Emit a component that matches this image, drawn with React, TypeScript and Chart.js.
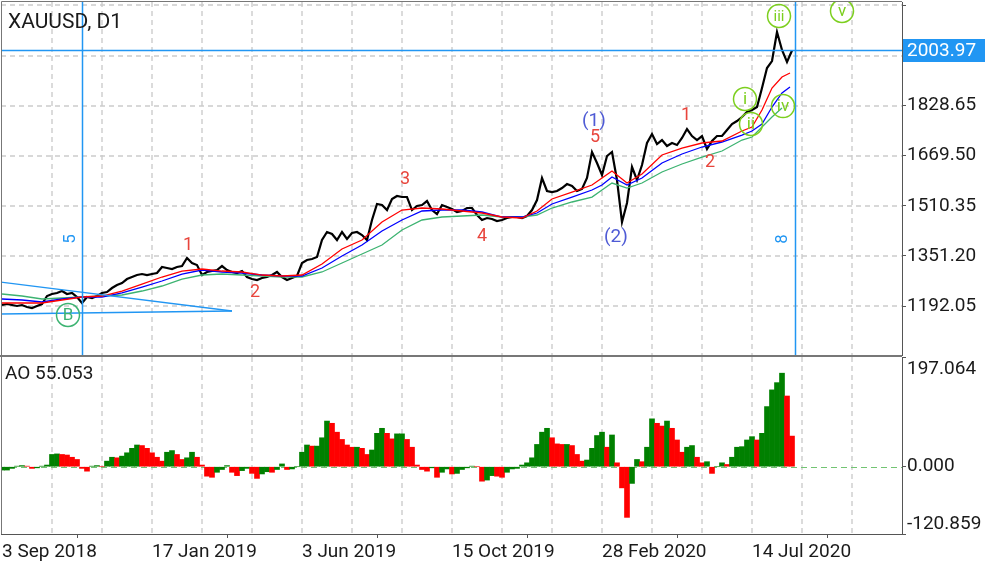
import React, { useEffect, useRef } from 'react';
import { Chart, registerables } from 'chart.js';

Chart.register(...registerables);

const FONT = 'Roboto, "Noto Sans", sans-serif';

// x unit = one sample step; 0 = 3 Sep 2018
const closePrices = [
  1195.2, 1198.4, 1195.2, 1192.1, 1195.2, 1188.9, 1185.7, 1192.1, 1198.4, 1223.8,
  1230.2, 1233.4, 1239.7, 1230.2, 1233.4, 1220.6, 1201.6, 1220.6, 1217.5, 1223.8,
  1233.4, 1236.5, 1249.2, 1258.8, 1265.1, 1277.8, 1284.2, 1290.5, 1293.7, 1290.5,
  1293.7, 1296.9, 1315.9, 1312.8, 1309.6, 1315.9, 1319.1, 1344.5, 1328.7, 1322.3,
  1290.5, 1300.1, 1303.2, 1306.4, 1319.1, 1306.4, 1300.1, 1296.9, 1303.2, 1284.2,
  1277.8, 1274.7, 1281.0, 1284.2, 1290.5, 1300.1, 1284.2, 1274.7, 1281.0, 1287.4,
  1328.7, 1338.2, 1341.4, 1347.7, 1401.7, 1427.1, 1420.8, 1401.7, 1427.1, 1404.9,
  1424.0, 1427.1, 1417.6, 1401.7, 1465.3, 1516.1, 1512.9, 1497.0, 1532.0, 1541.5,
  1538.3, 1538.3, 1497.0, 1509.8, 1512.9, 1525.6, 1497.0, 1484.3, 1512.9, 1506.6,
  1500.2, 1490.7, 1493.9, 1503.4, 1503.4, 1481.2, 1465.3, 1471.6, 1468.4, 1462.1,
  1465.3, 1471.6, 1474.8, 1474.8, 1471.6, 1478.0, 1497.0, 1528.8, 1598.7, 1557.4,
  1554.2, 1557.4, 1566.9, 1579.6, 1573.3, 1557.4, 1563.8, 1598.7, 1681.3, 1646.4,
  1608.2, 1668.6, 1681.3, 1592.4, 1458.9, 1519.3, 1633.7, 1592.4, 1640.0, 1709.9,
  1738.5, 1706.7, 1719.4, 1700.4, 1709.9, 1703.5, 1725.8, 1754.4, 1732.1, 1719.4,
  1732.1, 1690.8, 1716.3, 1732.1, 1732.1, 1751.2, 1770.3, 1779.8, 1792.5, 1808.4,
  1814.7, 1824.3, 1884.6, 1948.2, 1970.4, 2062.5, 2005.4, 1967.2, 2003.97,
];

const maX = [
  0, 4, 8, 12, 16, 20, 24, 28, 32, 36, 40, 44, 48, 52, 56, 60, 64, 68, 72, 76,
  80, 84, 88, 92, 96, 100, 104, 107, 110, 114, 118, 120, 122, 125, 128, 132, 136, 140, 144, 148,
  150, 152, 154, 156, 157.6,
];
const maRed = [
  1201.6, 1201.6, 1201.6, 1211.1, 1220.6, 1223.8, 1239.7, 1261.9, 1284.2, 1303.2,
  1309.6, 1303.2, 1300.1, 1290.5, 1287.4, 1290.5, 1325.5, 1373.1, 1401.7, 1458.9,
  1497.0, 1503.4, 1500.2, 1493.9, 1487.5, 1474.8, 1471.6, 1493.9, 1532.0, 1554.2,
  1576.5, 1598.7, 1621.0, 1582.8, 1611.4, 1671.8, 1694.0, 1709.9, 1716.3, 1748.0,
  1760.7, 1814.7, 1884.6, 1919.5, 1932.3,
];
const maBlue = [
  1214.3, 1211.1, 1204.8, 1214.3, 1220.6, 1220.6, 1233.4, 1252.4, 1271.5, 1293.7,
  1306.4, 1300.1, 1296.9, 1290.5, 1287.4, 1287.4, 1312.8, 1350.9, 1385.8, 1430.3,
  1465.3, 1493.9, 1497.0, 1497.0, 1490.7, 1474.8, 1474.8, 1487.5, 1516.1, 1538.3,
  1560.6, 1576.5, 1601.9, 1576.5, 1598.7, 1646.4, 1675.0, 1697.2, 1713.1, 1735.3,
  1748.0, 1770.3, 1824.3, 1868.8, 1887.8,
];
const maGreen = [
  1230.2, 1223.8, 1214.3, 1217.5, 1220.6, 1223.8, 1227.0, 1239.7, 1255.6, 1277.8,
  1290.5, 1293.7, 1290.5, 1287.4, 1284.2, 1284.2, 1300.1, 1328.7, 1357.3, 1385.8,
  1433.5, 1465.3, 1474.8, 1478.0, 1481.2, 1474.8, 1474.8, 1481.2, 1503.4, 1522.5,
  1538.3, 1560.6, 1582.8, 1566.9, 1582.8, 1617.8, 1643.2, 1665.4, 1684.5, 1719.4,
  1729.0, 1760.7, 1792.5, 1821.1,
];

const aoValues = [
  -6, -6, -3, 1, 2, 1, -3, -2, 1, 3,
  22, 23, 22, 21, 17, 13, -3, -8, 1, 2,
  0, 10, 17, 16, 19, 25, 33, 39, 38, 33,
  25, 17, 10, 26, 29, 22, 13, 16, 26, 17,
  3, -17, -19, -10, -5, 2, -10, -16, -7, -3,
  -12, -21, -13, -9, -10, -5, 5, -5, -4, 0,
  26, 39, 37, 37, 52, 82, 78, 62, 49, 39,
  35, 35, 33, 22, 30, 60, 69, 60, 50, 59,
  59, 49, 35, 3, -5, -8, -2, -19, -10, -4,
  -13, -12, -5, -2, 1, 0, -26, -24, -16, -17,
  -19, -10, -4, -3, 3, 7, 16, 40, 62, 69,
  52, 41, 40, 40, 38, 22, 10, 12, 33, 56,
  62, 35, 57, 7, -38, -91, -30, 13, 9, 35,
  86, 78, 73, 82, 69, 48, 26, 35, 38, 17,
  7, 9, -12, 0, 7, 4, 17, 35, 36, 48,
  54, 48, 60, 108, 138, 151, 168, 127, 55,
];

const gridX = [0, 10, 20, 30, 40, 50, 60, 70, 80, 90, 100, 110, 120, 130, 140, 150, 160, 170, 180];
const dateTickPos = [0, 30, 60, 90, 120, 150];
const dateTickLabels = ['3 Sep 2018', '17 Jan 2019', '3 Jun 2019', '15 Oct 2019', '28 Feb 2020', '14 Jul 2020'];
const priceTicks = [1192.05, 1351.2, 1510.35, 1669.5, 1828.65, 1987.8, 2146.95];
const hiddenPriceLabels = [2146.95];
const aoTicks = [-120.859, 0, 197.064];
const symbolTitle = 'XAUUSD, D1';
const lastPrice = 2003.97;
const aoLast = 55.053;
const vLines = [16, 158.6];
const vLineLabels = [
  { x: 13.8, y: 1404.9, t: '5' },
  { x: 156.2, y: 1404.9, t: '8' },
];
const triangleTop = [{ x: -0.4, y: 1268.3 }, { x: 46, y: 1176.2 }];
const triangleBottom = [{ x: -0.4, y: 1166.6 }, { x: 46, y: 1176.2 }];
const waveRed = [
  { x: 37.2, y: 1382.7, t: '1' },
  { x: 50.6, y: 1233.4, t: '2' },
  { x: 80.6, y: 1592.4, t: '3' },
  { x: 96, y: 1411.3, t: '4' },
  { x: 118.6, y: 1727.4, t: '5' },
  { x: 136.8, y: 1798.8, t: '1' },
  { x: 141.6, y: 1646.4, t: '2' },
];
const waveBlue = [
  { x: 118.4, y: 1779.8, t: '(1)' },
  { x: 122.8, y: 1409.7, t: '(2)' },
];
const waveCircles = [
  { x: 13.2, y: 1163.5, t: 'B', c: '#3cb371' },
  { x: 148.6, y: 1849.7, t: 'i', c: '#7ccf1e' },
  { x: 149.8, y: 1770.3, t: 'ii', c: '#7ccf1e' },
  { x: 155.4, y: 2113.4, t: 'iii', c: '#7ccf1e' },
  { x: 156.2, y: 1827.4, t: 'iv', c: '#7ccf1e' },
  { x: 168, y: 2129.3, t: 'v', c: '#7ccf1e' },
];

const X_MIN = -0.2;
const X_MAX = 180;
const GRID = '#cccccc';
const AXIS = '#555555';
const LINE_BLUE = '#2196f3';

function drawDashedGrid(chart: any, horizontal: number[] | null) {
  const { ctx, chartArea: a, scales } = chart;
  ctx.save();
  ctx.strokeStyle = GRID;
  ctx.lineWidth = 1.4;
  ctx.setLineDash([5, 4]);
  gridX.forEach((v) => {
    const x = Math.round(scales.x.getPixelForValue(v));
    if (x < a.left + 2 || x > a.right - 2) return;
    ctx.beginPath();
    ctx.moveTo(x, a.top);
    ctx.lineTo(x, a.bottom);
    ctx.stroke();
  });
  if (horizontal) {
    horizontal.forEach((v) => {
      const y = Math.round(scales.y.getPixelForValue(v));
      if (y < a.top || y > a.bottom) return;
      ctx.beginPath();
      ctx.moveTo(a.left, y);
      ctx.lineTo(a.right, y);
      ctx.stroke();
    });
  }
  ctx.restore();
}

export default function App() {
  const mainRef = useRef<HTMLCanvasElement>(null);
  const aoRef = useRef<HTMLCanvasElement>(null);

  useEffect(() => {
    Chart.defaults.font.family = FONT;

    const mainOverlay = {
      id: 'mainOverlay',
      beforeDatasetsDraw(chart: any) {
        drawDashedGrid(chart, priceTicks);
      },
      afterDatasetsDraw(chart: any) {
        const { ctx, chartArea: a, scales } = chart;
        const xs = scales.x;
        const ys = scales.y;
        const px = (v: number) => xs.getPixelForValue(v);
        const py = (v: number) => ys.getPixelForValue(v);
        ctx.save();
        ctx.beginPath();
        ctx.rect(a.left, a.top, a.right - a.left, a.bottom - a.top);
        ctx.clip();

        ctx.strokeStyle = LINE_BLUE;
        ctx.lineWidth = 1.3;
        [triangleTop, triangleBottom].forEach((seg) => {
          ctx.beginPath();
          ctx.moveTo(px(seg[0].x), py(seg[0].y));
          ctx.lineTo(px(seg[1].x), py(seg[1].y));
          ctx.stroke();
        });

        ctx.lineWidth = 1.5;
        const hy = Math.round(py(lastPrice)) + 0.5;
        ctx.beginPath();
        ctx.moveTo(a.left, hy);
        ctx.lineTo(a.right, hy);
        ctx.stroke();
        vLines.forEach((v) => {
          const x = Math.round(px(v)) + 0.5;
          ctx.beginPath();
          ctx.moveTo(x, a.top);
          ctx.lineTo(x, a.bottom);
          ctx.stroke();
        });

        ctx.fillStyle = LINE_BLUE;
        ctx.font = `17px ${FONT}`;
        ctx.textAlign = 'center';
        ctx.textBaseline = 'middle';
        vLineLabels.forEach((l) => {
          ctx.save();
          ctx.translate(px(l.x), py(l.y));
          ctx.rotate(-Math.PI / 2);
          ctx.fillText(l.t, 0, 0);
          ctx.restore();
        });

        ctx.font = `18px ${FONT}`;
        ctx.fillStyle = '#e8453c';
        waveRed.forEach((l) => ctx.fillText(l.t, px(l.x), py(l.y)));
        ctx.font = `19px ${FONT}`;
        ctx.fillStyle = '#4f5bd5';
        waveBlue.forEach((l) => ctx.fillText(l.t, px(l.x), py(l.y)));

        waveCircles.forEach((l) => {
          const cx = px(l.x);
          const cy = py(l.y);
          ctx.strokeStyle = l.c;
          ctx.lineWidth = 1.5;
          ctx.beginPath();
          ctx.arc(cx, cy, 11.5, 0, Math.PI * 2);
          ctx.stroke();
          ctx.fillStyle = l.c;
          ctx.font = `${l.t.length > 2 ? 15 : 17}px ${FONT}`;
          ctx.fillText(l.t, cx, cy + 1);
        });
        ctx.restore();
      },
      afterDraw(chart: any) {
        const { ctx, chartArea: a, scales } = chart;
        ctx.save();
        ctx.fillStyle = '#1a1a1a';
        ctx.font = `21px ${FONT}`;
        ctx.textAlign = 'left';
        ctx.textBaseline = 'middle';
        ctx.fillText(symbolTitle, 8, 23);

        const y = Math.round(scales.y.getPixelForValue(lastPrice));
        ctx.fillStyle = LINE_BLUE;
        ctx.fillRect(a.right + 1, y - 11, 82, 23);
        ctx.fillStyle = '#ffffff';
        ctx.font = `19px ${FONT}`;
        ctx.fillText(lastPrice.toFixed(2), a.right + 5, y + 1);

        ctx.strokeStyle = '#777';
        ctx.lineWidth = 1;
        ctx.beginPath();
        ctx.moveTo(a.left + 0.5, a.bottom);
        ctx.lineTo(a.left + 0.5, a.top - 0.5);
        ctx.lineTo(a.right, a.top - 0.5);
        ctx.stroke();
        ctx.lineWidth = 2;
        ctx.beginPath();
        ctx.moveTo(0, a.bottom + 1);
        ctx.lineTo(a.right, a.bottom + 1);
        ctx.stroke();
        ctx.restore();
      },
    };

    const aoOverlay = {
      id: 'aoOverlay',
      beforeDatasetsDraw(chart: any) {
        drawDashedGrid(chart, null);
        const { ctx, chartArea: a, scales } = chart;
        const y = Math.round(scales.y.getPixelForValue(0)) + 0.5;
        ctx.save();
        ctx.strokeStyle = '#72c472';
        ctx.lineWidth = 1;
        ctx.setLineDash([6, 4]);
        ctx.beginPath();
        ctx.moveTo(a.left, y);
        ctx.lineTo(a.right, y);
        ctx.stroke();
        ctx.restore();
      },
      afterDraw(chart: any) {
        const { ctx, chartArea: a, scales } = chart;
        const ys = scales.y;
        ctx.save();
        ctx.fillStyle = '#1a1a1a';
        ctx.font = `19px ${FONT}`;
        ctx.textAlign = 'left';
        ctx.textBaseline = 'middle';
        aoTicks.forEach((v) => {
          let y = ys.getPixelForValue(v);
          if (v === aoTicks[aoTicks.length - 1]) y += 12;
          if (v === aoTicks[0]) y -= 10;
          ctx.fillText(v.toFixed(3), a.right + 5, y);
        });
        ctx.fillText(`AO ${aoLast.toFixed(3)}`, 5, a.top + 17);

        ctx.strokeStyle = '#777';
        ctx.lineWidth = 1;
        ctx.beginPath();
        ctx.moveTo(a.left + 0.5, a.top);
        ctx.lineTo(a.left + 0.5, a.bottom);
        ctx.stroke();
        ctx.restore();
      },
    };

    const mainChart = new Chart(mainRef.current as HTMLCanvasElement, {
      type: 'line',
      data: {
        datasets: [
          {
            data: maRed.map((y, i) => ({ x: maX[i], y })),
            borderColor: '#ff0000',
            borderWidth: 1.3,
            pointRadius: 0,
            order: 1,
          },
          {
            data: maBlue.map((y, i) => ({ x: maX[i], y })),
            borderColor: '#0000ff',
            borderWidth: 1.3,
            pointRadius: 0,
            order: 2,
          },
          {
            data: maGreen.map((y, i) => ({ x: maX[i], y })),
            borderColor: '#3cb371',
            borderWidth: 1.3,
            pointRadius: 0,
            order: 3,
          },
          {
            data: closePrices.map((y, i) => ({ x: i, y })),
            borderColor: '#000000',
            borderWidth: 2.2,
            pointRadius: 0,
            order: 10,
          },
        ],
      },
      options: {
        responsive: false,
        animation: false,
        events: [],
        layout: { padding: { left: 1, top: 2, right: 0, bottom: 2 } },
        plugins: { legend: { display: false }, tooltip: { enabled: false } },
        scales: {
          x: {
            type: 'linear',
            display: false,
            min: X_MIN,
            max: X_MAX,
          },
          y: {
            position: 'right',
            min: 1036.4,
            max: 2157.9,
            afterBuildTicks: (s: any) => {
              s.ticks = priceTicks.map((v) => ({ value: v }));
            },
            afterFit: (s: any) => {
              s.width = 98;
              s.paddingTop = 0;
              s.paddingBottom = 0;
            },
            ticks: {
              color: '#1a1a1a',
              font: { size: 19 },
              padding: 1,
              callback: (v: any) => (hiddenPriceLabels.includes(Number(v)) ? '' : Number(v).toFixed(2)),
            },
            grid: { drawOnChartArea: false, tickLength: 4, tickColor: AXIS, color: AXIS },
            border: { display: true, color: AXIS },
          },
        },
      } as any,
      plugins: [mainOverlay],
    });

    const aoColors = aoValues.map((v, i) => (i === 0 || v >= aoValues[i - 1] ? '#008000' : '#ff0000'));

    const aoChart = new Chart(aoRef.current as HTMLCanvasElement, {
      type: 'bar',
      data: {
        datasets: [
          {
            data: aoValues.map((y, i) => ({ x: i, y })),
            backgroundColor: aoColors,
            borderWidth: 0,
            barPercentage: 1,
            categoryPercentage: 1,
          } as any,
        ],
      },
      options: {
        responsive: false,
        animation: false,
        events: [],
        layout: { padding: { left: 1, top: 1, right: 0, bottom: 0 } },
        plugins: { legend: { display: false }, tooltip: { enabled: false } },
        scales: {
          x: {
            type: 'linear',
            min: X_MIN,
            max: X_MAX,
            offset: false,
            afterBuildTicks: (s: any) => {
              s.ticks = dateTickPos.map((v) => ({ value: v }));
            },
            afterFit: (s: any) => {
              s.height = 29;
              s.paddingLeft = 0;
              s.paddingRight = 0;
            },
            ticks: {
              autoSkip: false,
              maxRotation: 0,
              minRotation: 0,
              align: 'start',
              color: '#1a1a1a',
              font: { size: 19 },
              padding: 3,
              callback: (v: any) => {
                const k = dateTickPos.indexOf(Number(v));
                return k >= 0 ? dateTickLabels[k] : '';
              },
            },
            grid: { drawOnChartArea: false, tickLength: 4, tickColor: AXIS, color: AXIS },
            border: { display: true, color: AXIS },
          },
          y: {
            position: 'right',
            min: aoTicks[0],
            max: aoTicks[aoTicks.length - 1],
            afterBuildTicks: (s: any) => {
              s.ticks = aoTicks.map((v) => ({ value: v }));
            },
            afterFit: (s: any) => {
              s.width = 98;
              s.paddingTop = 0;
              s.paddingBottom = 0;
            },
            ticks: { display: false },
            grid: { drawOnChartArea: false, tickLength: 4, tickColor: AXIS, color: AXIS },
            border: { display: true, color: AXIS },
          },
        },
      } as any,
      plugins: [aoOverlay],
    });

    return () => {
      mainChart.destroy();
      aoChart.destroy();
    };
  }, []);

  return (
    <div style={{ position: 'absolute', left: 0, top: 0, width: 1000, height: 563, background: '#ffffff', overflow: 'hidden' }}>
      <canvas ref={mainRef} width={1000} height={357} style={{ position: 'absolute', left: 0, top: 0 }} />
      <canvas ref={aoRef} width={1000} height={207} style={{ position: 'absolute', left: 0, top: 356 }} />
    </div>
  );
}
